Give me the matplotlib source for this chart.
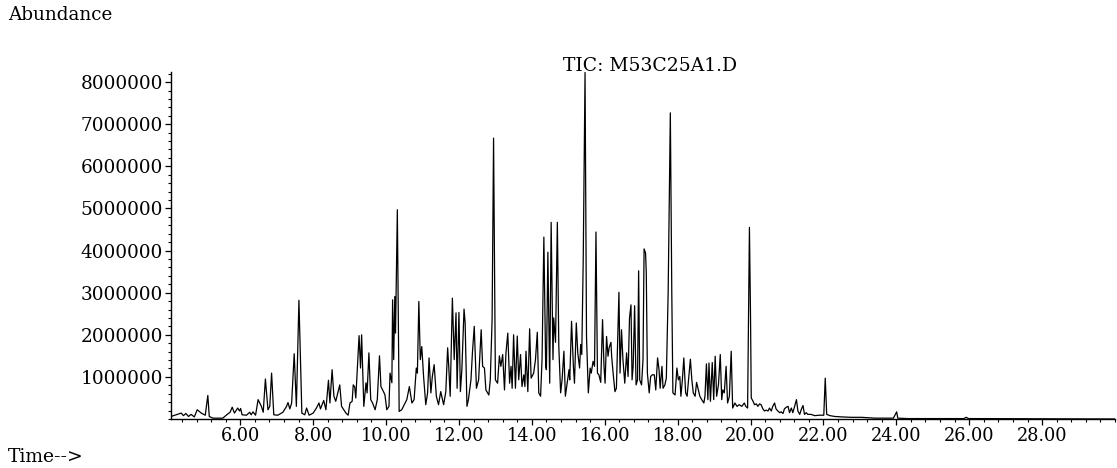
import numpy as np
import matplotlib
matplotlib.use("Agg")
import matplotlib.pyplot as plt
from matplotlib.ticker import FixedLocator, MultipleLocator, FuncFormatter

# Retention time (min) and abundance (millions of counts)
rt_min = [
    4.10, 4.38, 4.44, 4.51, 4.58, 4.65, 4.74, 4.82, 4.93, 5.04, 5.11, 5.15, 5.25, 5.52,
    5.63, 5.72, 5.78, 5.84, 5.93, 5.98, 6.01, 6.05, 6.17, 6.26, 6.30, 6.35, 6.42, 6.49,
    6.58, 6.63, 6.69, 6.76, 6.81, 6.86, 6.92, 7.03, 7.17, 7.27, 7.31, 7.36, 7.41, 7.48,
    7.54, 7.61, 7.69, 7.77, 7.82, 7.89, 8.00, 8.09, 8.16, 8.20, 8.29, 8.35, 8.42, 8.46,
    8.52, 8.57, 8.62, 8.73, 8.78, 8.90, 8.96, 9.01, 9.07, 9.10, 9.14, 9.17, 9.26, 9.30,
    9.33, 9.39, 9.45, 9.48, 9.53, 9.58, 9.63, 9.70, 9.76, 9.82, 9.86, 9.93, 9.97, 10.02,
    10.08, 10.11, 10.16, 10.18, 10.21, 10.24, 10.26, 10.31, 10.36, 10.43, 10.57, 10.64,
    10.71, 10.77, 10.83, 10.86, 10.90, 10.94, 10.98, 11.03, 11.09, 11.14, 11.18, 11.23,
    11.27, 11.32, 11.38, 11.44, 11.50, 11.58, 11.64, 11.69, 11.72, 11.76, 11.82, 11.87,
    11.92, 11.95, 12.00, 12.04, 12.08, 12.14, 12.17, 12.22, 12.26, 12.33, 12.37, 12.42,
    12.45, 12.48, 12.54, 12.61, 12.65, 12.70, 12.74, 12.82, 12.86, 12.91, 12.95, 13.00,
    13.06, 13.11, 13.15, 13.20, 13.25, 13.29, 13.34, 13.39, 13.43, 13.46, 13.50, 13.55,
    13.60, 13.64, 13.69, 13.73, 13.78, 13.81, 13.84, 13.89, 13.94, 13.98, 14.05, 14.10,
    14.15, 14.19, 14.24, 14.28, 14.33, 14.38, 14.40, 14.44, 14.49, 14.53, 14.58, 14.60,
    14.65, 14.70, 14.74, 14.79, 14.83, 14.88, 14.92, 14.97, 15.02, 15.04, 15.09, 15.14,
    15.17, 15.22, 15.26, 15.31, 15.34, 15.37, 15.41, 15.46, 15.50, 15.55, 15.60, 15.63,
    15.68, 15.72, 15.76, 15.80, 15.84, 15.89, 15.94, 15.98, 16.01, 16.05, 16.09, 16.12,
    16.17, 16.19, 16.23, 16.28, 16.32, 16.39, 16.42, 16.46, 16.50, 16.55, 16.60, 16.64,
    16.68, 16.72, 16.75, 16.78, 16.82, 16.86, 16.90, 16.93, 16.96, 17.01, 17.05, 17.08,
    17.12, 17.14, 17.17, 17.22, 17.26, 17.31, 17.36, 17.40, 17.45, 17.49, 17.52, 17.57,
    17.60, 17.65, 17.69, 17.74, 17.80, 17.84, 17.87, 17.93, 17.98, 18.02, 18.06, 18.09,
    18.13, 18.17, 18.22, 18.26, 18.30, 18.35, 18.39, 18.43, 18.48, 18.52, 18.57, 18.61,
    18.66, 18.72, 18.75, 18.79, 18.83, 18.86, 18.90, 18.95, 18.99, 19.03, 19.07, 19.12,
    19.17, 19.21, 19.24, 19.28, 19.33, 19.37, 19.42, 19.47, 19.51, 19.57, 19.63, 19.69,
    19.76, 19.83, 19.87, 19.92, 19.97, 20.00, 20.02, 20.07, 20.11, 20.16, 20.20, 20.25,
    20.29, 20.34, 20.38, 20.43, 20.48, 20.52, 20.57, 20.61, 20.66, 20.70, 20.75, 20.80,
    20.84, 20.89, 20.93, 20.98, 21.03, 21.07, 21.12, 21.16, 21.21, 21.26, 21.30, 21.35,
    21.39, 21.44, 21.48, 21.53, 21.57, 21.66, 21.76, 21.89, 22.01, 22.05, 22.09, 22.18,
    22.31, 22.49, 22.77, 23.05, 23.41, 23.92, 24.01, 24.04, 24.30, 25.85, 25.92, 25.98,
    30.00,
]
abundance_m = [
    0.06, 0.14, 0.08, 0.13, 0.06, 0.11, 0.05, 0.22, 0.14, 0.09, 0.56, 0.06, 0.02, 0.02,
    0.10, 0.16, 0.28, 0.14, 0.26, 0.19, 0.25, 0.10, 0.09, 0.16, 0.10, 0.17, 0.09, 0.46,
    0.30, 0.16, 0.95, 0.22, 0.30, 1.09, 0.10, 0.09, 0.16, 0.30, 0.39, 0.24, 0.38, 1.55,
    0.30, 2.82, 0.14, 0.10, 0.26, 0.09, 0.14, 0.26, 0.38, 0.24, 0.44, 0.22, 0.92, 0.38,
    1.17, 0.54, 0.42, 0.81, 0.30, 0.14, 0.09, 0.38, 0.42, 0.81, 0.76, 0.50, 1.98, 1.21,
    2.00, 0.30, 0.86, 0.62, 1.57, 0.46, 0.38, 0.22, 0.46, 1.50, 0.77, 0.65, 0.57, 0.22,
    0.30, 1.09, 0.86, 2.83, 1.41, 2.91, 2.04, 4.97, 0.18, 0.22, 0.46, 0.77,
    0.38, 0.46, 1.21, 1.09, 2.79, 1.41, 1.72, 1.01, 0.34, 0.62, 1.45, 0.62,
    1.01, 1.29, 0.54, 0.34, 0.65, 0.34, 0.65, 1.69, 1.25, 0.54, 2.87, 1.41,
    2.52, 0.73, 2.53, 0.65, 1.17, 2.61, 2.28, 0.30, 0.46, 0.93, 1.57, 2.20,
    1.49, 0.73, 0.93, 2.12, 1.25, 1.21, 0.69, 0.57, 0.93, 2.36, 6.67, 0.93,
    0.85, 1.50, 1.25, 1.53, 0.69, 1.57, 2.04, 0.85, 1.25, 0.73, 2.00, 0.73,
    1.97, 0.93, 1.53, 0.77, 1.05, 0.77, 1.61, 0.65, 2.14, 0.97, 1.09, 1.41,
    2.06, 0.62, 0.54, 1.41, 4.32, 1.25, 1.17, 3.96, 0.85, 4.67, 1.41, 2.40,
    1.82, 4.67, 1.72, 0.62, 0.93, 1.61, 0.54, 0.85, 1.17, 0.93, 2.32, 1.25,
    0.85, 2.28, 1.57, 1.21, 1.77, 1.53, 3.78, 8.23, 1.96, 0.62, 1.21, 1.09,
    1.37, 1.25, 4.44, 1.09, 1.05, 0.87, 2.36, 1.25, 0.85, 1.96, 1.49, 1.69,
    1.82, 1.49, 1.09, 0.65, 0.73, 3.01, 1.09, 2.12, 1.41, 0.85, 1.57, 1.01,
    2.40, 2.71, 0.93, 1.25, 2.69, 0.81, 0.93, 3.52, 0.93, 0.81, 1.41, 4.04,
    3.94, 3.47, 1.09, 0.62, 1.01, 1.05, 1.05, 0.69, 1.45, 1.17, 0.73, 1.25,
    0.73, 0.81, 0.97, 2.99, 7.27, 2.99, 0.62, 0.57, 1.21, 0.93, 1.01, 0.54,
    0.93, 1.45, 0.62, 0.54, 0.93, 1.42, 0.93, 0.62, 0.54, 0.87, 0.69, 0.54,
    0.46, 0.38, 0.54, 1.31, 0.46, 1.33, 0.42, 1.34, 0.46, 1.49, 0.54, 0.81,
    1.53, 0.46, 0.69, 0.62, 1.25, 0.38, 0.54, 1.61, 0.26, 0.38, 0.30, 0.34,
    0.30, 0.38, 0.30, 0.26, 4.55, 2.44, 0.50, 0.42, 0.34, 0.36, 0.30, 0.36,
    0.34, 0.24, 0.19, 0.21, 0.19, 0.26, 0.19, 0.30, 0.38, 0.24, 0.19, 0.15,
    0.17, 0.13, 0.24, 0.28, 0.30, 0.15, 0.26, 0.15, 0.30, 0.46, 0.19, 0.11,
    0.22, 0.32, 0.11, 0.15, 0.11, 0.11, 0.08, 0.09, 0.09, 0.97, 0.11, 0.08,
    0.06, 0.05, 0.04, 0.04, 0.02, 0.02, 0.17, 0.02, 0.01, 0.01, 0.04, 0.01,
    0.00,
]
y_tick_values = [1000000, 2000000, 3000000, 4000000, 5000000, 6000000, 7000000, 8000000]
x_tick_values = [6, 8, 10, 12, 14, 16, 18, 20, 22, 24, 26, 28]
title_text = "TIC: M53C25A1.D"

plt.rcParams['font.family'] = ['DejaVu Serif']

fig = plt.figure(figsize=(11.17, 4.68), dpi=100)
ax = fig.add_axes([171 / 1117, 49 / 468, (1115 - 171) / 1117, (419 - 72) / 468])

ax.plot(rt_min, np.array(abundance_m) * 1e6, color='black', linewidth=0.9)

ax.set_xlim(4.1, 30.0)
ax.set_ylim(0, 8.24e6)

for s in ['top', 'right']:
    ax.spines[s].set_visible(False)
for s in ['left', 'bottom']:
    ax.spines[s].set_linewidth(1.0)

ax.xaxis.set_major_locator(FixedLocator(x_tick_values))
ax.xaxis.set_minor_locator(MultipleLocator(0.4))
ax.xaxis.set_major_formatter(FuncFormatter(lambda v, p: f"{v:.2f}"))
ax.yaxis.set_major_locator(FixedLocator(y_tick_values))
ax.yaxis.set_minor_locator(MultipleLocator(200000))
ax.yaxis.set_major_formatter(FuncFormatter(lambda v, p: f"{int(round(v))}"))

ax.tick_params(axis='both', which='major', direction='out', length=4, width=0.9,
               color='black')
ax.tick_params(axis='both', which='minor', direction='out', length=2.5, width=0.8,
               color='black')
ax.tick_params(axis='x', which='major', pad=2, labelsize=12.8)
ax.tick_params(axis='y', which='major', pad=2, labelsize=13.3)

fig.text(650 / 1117, 1 - 66 / 468, title_text, ha='center', va='center', fontsize=13.5)
fig.text(8 / 1117, 1 - 15 / 468, "Abundance", ha='left', va='center', fontsize=13.2)
fig.text(8 / 1117, 1 - 457 / 468, "Time-->", ha='left', va='center', fontsize=13.5)

fig.savefig("out.png", dpi=100)
